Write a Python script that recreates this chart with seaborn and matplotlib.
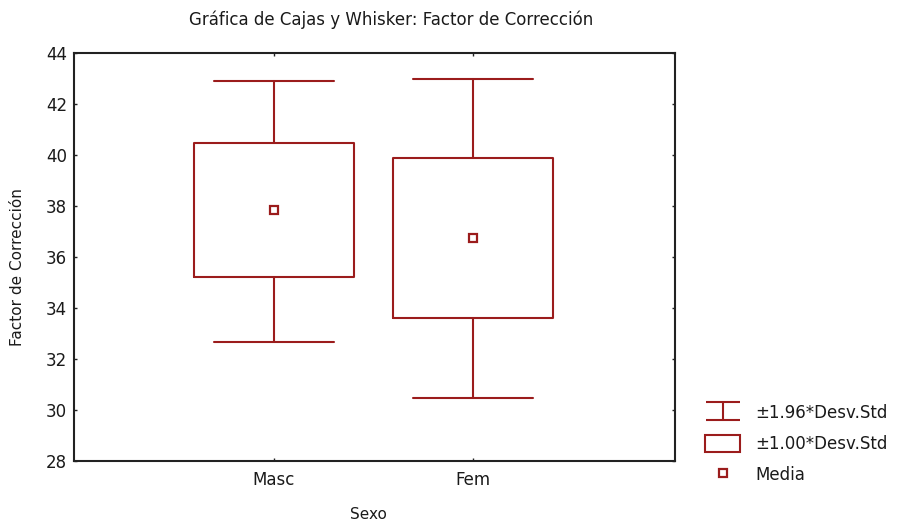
import matplotlib
matplotlib.use('Agg')
import matplotlib.pyplot as plt
import seaborn as sns
from matplotlib.path import Path
from matplotlib.lines import Line2D
from matplotlib.patches import Patch

# values
sexo = ['Masc', 'Fem']
media = [37.84, 36.73]
caja_inf = [35.23, 33.60]     # media - 1.00*Desv.Std
caja_sup = [40.46, 39.87]     # media + 1.00*Desv.Std
bigote_inf = [32.68, 30.46]   # media - 1.96*Desv.Std
bigote_sup = [42.91, 42.99]   # media + 1.96*Desv.Std
yticks = [28, 30, 32, 34, 36, 38, 40, 42, 44]

sns.set_theme(style='ticks')
plt.rcParams['font.family'] = ['DejaVu Sans']

rojo = '#9b1c1c'
fig = plt.figure(figsize=(8.99, 5.25), dpi=100)
ax = fig.add_axes([74 / 899, 1 - 461 / 525, 601 / 899, 408 / 525])

# means with seaborn (sets the categorical axis)
sns.pointplot(x=sexo, y=media, errorbar=None, linestyle='none', marker='s',
              markersize=5.5, markerfacecolor='white', markeredgecolor=rojo,
              markeredgewidth=1.6, color=rojo, ax=ax, zorder=5)

# boxes (±1 SD) and whiskers (±1.96 SD)
stats = []
for s, m, q1, q3, wl, wh in zip(sexo, media, caja_inf, caja_sup, bigote_inf, bigote_sup):
    stats.append(dict(label=s, med=m, mean=m, q1=q1, q3=q3,
                      whislo=wl, whishi=wh, fliers=[]))
estilo = dict(color=rojo, linewidth=1.5)
ax.bxp(stats, positions=range(len(sexo)), widths=0.8, capwidths=0.6,
       showfliers=False, manage_ticks=False,
       boxprops=estilo, whiskerprops=estilo, capprops=estilo,
       medianprops=dict(linewidth=0))

ax.set_xlim(-1, 2.01)
ax.set_ylim(28, 44)
ax.set_yticks(yticks)
ax.set_xticks(range(len(sexo)))
ax.set_xticklabels(sexo)
ax.tick_params(direction='in', length=2.5, width=1, top=True, right=True,
               colors='#222222', labelsize=12, labelcolor='#1a1a1a')
ax.tick_params(axis='x', pad=7)
ax.tick_params(axis='y', pad=5)
for sp in ax.spines.values():
    sp.set_visible(True)
    sp.set_linewidth(1.5)
    sp.set_color('#222222')

ax.set_xlabel('Sexo', fontsize=11, color='#1a1a1a')
ax.set_ylabel('Factor de Corrección', fontsize=11, color='#1a1a1a')
ax.xaxis.set_label_coords((368 - 74) / 601, (461 - 507) / 408)
ax.yaxis.set_label_coords((25 - 74) / 601, (461 - 267) / 408)

fig.text(391 / 899, 1 - 20 / 525, 'Gráfica de Cajas y Whisker: Factor de Corrección',
         ha='center', va='center', fontsize=12, color='#1a1a1a')

# legend
bigote = Path([(-1, 0.5), (1, 0.5), (0, 0.5), (0, -0.5), (-1, -0.5), (1, -0.5)],
              [Path.MOVETO, Path.LINETO, Path.MOVETO, Path.LINETO, Path.MOVETO, Path.LINETO])
handles = [
    Line2D([], [], marker=bigote, linestyle='none', markersize=25,
           markeredgecolor=rojo, markerfacecolor='none', markeredgewidth=1.5),
    Patch(facecolor='none', edgecolor=rojo, linewidth=1.5),
    Line2D([], [], marker='s', linestyle='none', markersize=5.5,
           markerfacecolor='white', markeredgecolor=rojo, markeredgewidth=1.6),
]
labels = ['±1.96*Desv.Std', '±1.00*Desv.Std', 'Media']
leg = fig.legend(handles, labels, loc='center left', bbox_to_anchor=(705 / 899, 1 - 444 / 525),
                 frameon=False, fontsize=12, borderpad=0, borderaxespad=0,
                 handlelength=2.1, handleheight=1.14, handletextpad=0.9, labelspacing=0.8)
for t in leg.get_texts():
    t.set_color('#1a1a1a')

fig.savefig('out.png', dpi=100)
